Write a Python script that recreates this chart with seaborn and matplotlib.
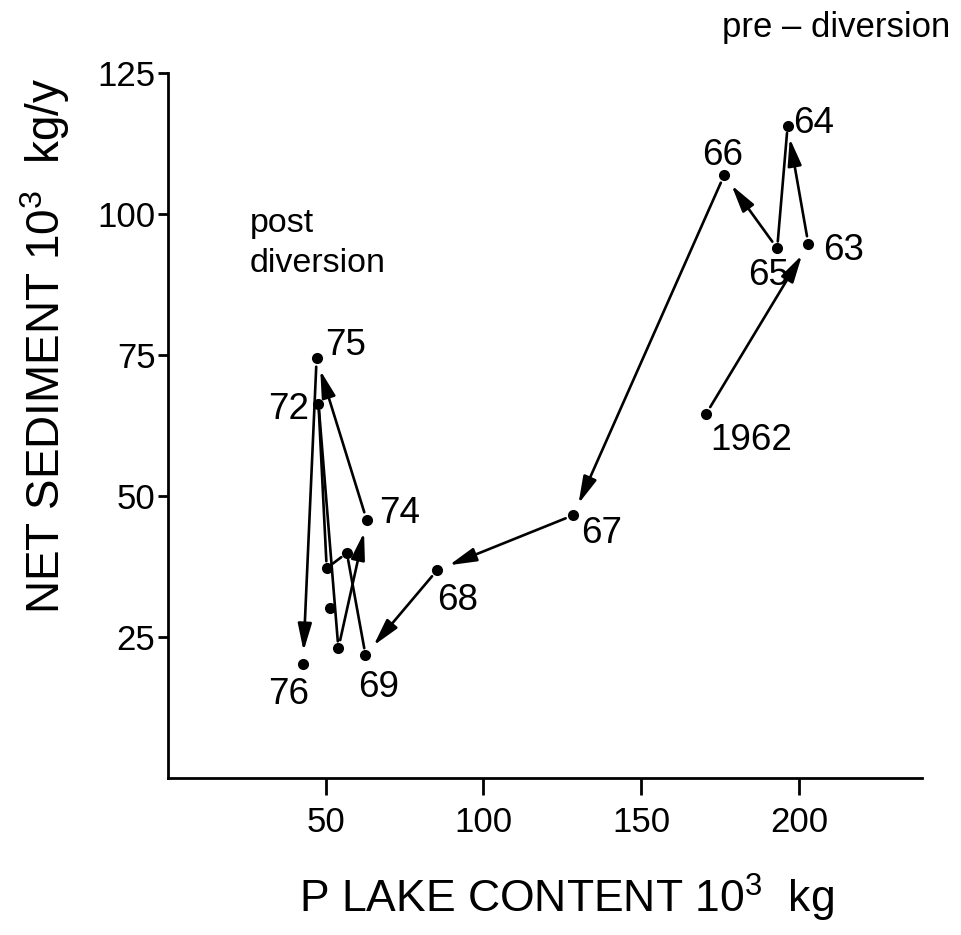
import matplotlib
matplotlib.use("Agg")
import matplotlib.pyplot as plt
import pandas as pd
import seaborn as sns

# Lake phosphorus content vs. net sedimentation, year by year
years = ["1962", "63", "64", "65", "66", "67", "68", "69",
         "70", "71", "72", "73", "74", "75", "76"]
p_lake_content = [170.5, 203.0, 196.4, 193.1, 176.3, 128.5, 85.4, 62.6,
                  56.7, 50.3, 47.7, 54.0, 63.0, 47.1, 42.8]
net_sediment = [64.5, 94.6, 115.6, 93.9, 106.9, 46.6, 36.9, 21.8,
                39.9, 37.2, 66.4, 23.0, 45.7, 74.4, 20.3]
shown_labels = ["1962", "63", "64", "65", "66", "67", "68", "69",
                "", "", "72", "", "74", "75", "76"]
extra_p = [51.4]
extra_sed = [30.1]

x_ticks = [50, 100, 150, 200]
y_ticks = [25, 50, 75, 100, 125]

df = pd.DataFrame({"year": years, "p": p_lake_content, "sed": net_sediment})
df_extra = pd.DataFrame({"p": extra_p, "sed": extra_sed})

sns.set_theme(style="ticks")
plt.rcParams["font.family"] = ["Liberation Sans", "DejaVu Sans"]
plt.rcParams["mathtext.default"] = "regular"

W, H, DPI = 961, 935, 100
fig = plt.figure(figsize=(W / DPI, H / DPI), dpi=DPI)
ax = fig.add_axes([168 / W, 1 - 778 / H, (922 - 168) / W, (778 - 73) / H])

# which steps of the trajectory carry an arrow head
arrow_heads = [True, True, False, True, True, True, True,
               False, False, False, False, True, True, True]

px = 0.72  # pixels -> points at 100 dpi
for i in range(len(df) - 1):
    a = df.iloc[i]
    b = df.iloc[i + 1]
    if arrow_heads[i]:
        props = dict(arrowstyle="-|>,head_length=1.1,head_width=0.28",
                     mutation_scale=15, color="black", lw=1.9,
                     shrinkA=6, shrinkB=9)
    else:
        props = dict(arrowstyle="-", color="black", lw=1.9,
                     shrinkA=5, shrinkB=5)
    ax.annotate("", xy=(b["p"], b["sed"]), xytext=(a["p"], a["sed"]),
                arrowprops=props, zorder=2)

sns.scatterplot(data=df, x="p", y="sed", ax=ax, color="black", s=64,
                edgecolor="black", linewidth=0, zorder=3, legend=False)
sns.scatterplot(data=df_extra, x="p", y="sed", ax=ax, color="black", s=64,
                edgecolor="black", linewidth=0, zorder=3, legend=False)

# label placement: (horizontal alignment, dx px, dy px) relative to the dot,
# text baseline at dy
label_pos = {
    "1962": ("left", 4, -36),
    "63": ("left", 15, -16),
    "64": ("left", 6, -7),
    "65": ("center", -9, -37),
    "66": ("center", -2, 10),
    "67": ("left", 8, -28),
    "68": ("left", 0, -40),
    "69": ("center", 13, -42),
    "72": ("right", -9, -15),
    "74": ("left", 12, -3),
    "75": ("left", 9, 3),
    "76": ("center", -14, -40),
}
for lab, xv, yv in zip(shown_labels, p_lake_content, net_sediment):
    if not lab:
        continue
    ha, dx, dy = label_pos[lab]
    ax.annotate(lab, xy=(xv, yv), xytext=(dx * px, dy * px),
                textcoords="offset points", ha=ha, va="baseline",
                fontsize=26.5, color="black", zorder=4)

ax.set_xlim(0, 239)
ax.set_ylim(0, 125)
ax.set_xticks(x_ticks)
ax.set_yticks(y_ticks)
ax.set_xticklabels([str(v) for v in x_ticks])
ax.set_yticklabels([str(v) for v in y_ticks])
ax.set_xlabel("")
ax.set_ylabel("")
sns.despine(ax=ax)
for side in ("left", "bottom"):
    ax.spines[side].set_linewidth(2.0)
    ax.spines[side].set_color("black")
ax.tick_params(axis="x", length=12, width=2.0, pad=8, labelsize=25,
               colors="black", direction="out")
ax.tick_params(axis="y", length=7, width=2.0, pad=2, labelsize=25,
               colors="black", direction="out")
ax.set_facecolor("white")
fig.patch.set_facecolor("white")

fig.text(566 / W, 1 - 913 / H, r"P LAKE CONTENT 10$^{3}$  kg",
         ha="center", va="baseline", fontsize=32, color="black")
fig.text(45 / W, 1 - 346 / H, r"NET SEDIMENT 10$^{3}$  kg/y",
         ha="center", va="center", rotation=90, fontsize=33, color="black")

fig.text(722 / W, 1 - 37 / H, "pre \u2013 diversion",
         ha="left", va="baseline", fontsize=25, color="black")
fig.text(250 / W, 1 - 232 / H, "post", ha="left", va="baseline",
         fontsize=24.5, color="black")
fig.text(250 / W, 1 - 272 / H, "diversion", ha="left", va="baseline",
         fontsize=24.5, color="black")

fig.savefig("out.png", dpi=DPI, facecolor="white")
